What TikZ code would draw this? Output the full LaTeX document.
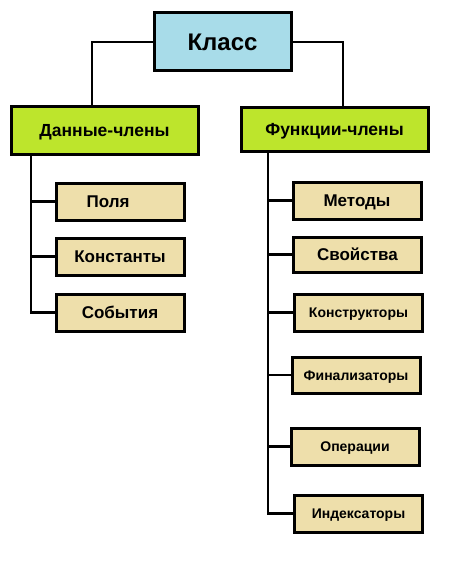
\documentclass[tikz,border=0pt]{standalone}
\usepackage{fontspec}
\setmainfont{Liberation Sans}
\definecolor{cblue}{HTML}{A8DCE9}
\definecolor{cgreen}{HTML}{BDE52C}
\definecolor{ctan}{HTML}{EEDFAB}
\tikzset{
  box/.style={draw=black, line width=3pt, inner sep=0pt, text depth=0pt, font=\bfseries},
  big/.style={box, fill=cblue, text height=17.2pt, font=\fontsize{24}{28}\selectfont\bfseries},
  mid/.style={box, fill=cgreen, text height=12.5pt, font=\fontsize{17.5}{21}\selectfont\bfseries},
  leaf/.style={box, fill=ctan, minimum width=128pt, minimum height=37pt, text height=12.2pt, font=\fontsize{17}{20}\selectfont\bfseries},
  sleaf/.style={leaf, text height=10pt, font=\fontsize{14}{17}\selectfont\bfseries},
  link/.style={draw=black, line width=2.6pt}
}
\begin{document}
\begin{tikzpicture}[x=1pt,y=-1pt]
\useasboundingbox[fill=white] (0,0) rectangle (474,567);
\node[big, minimum width=137pt, minimum height=58pt] (klass) at (222.5,42) {Класс};
\node[mid, minimum width=187pt, minimum height=47pt] (data) at (104.5,130.5) {Данные-члены};
\node[mid, minimum width=187pt, minimum height=43pt] (func) at (334.5,129.5) {Функции-члены};
\node[leaf] (pol) at (120,201.5) {\hspace*{-24pt}Поля};
\node[leaf] (kon) at (120,256.5) {Константы};
\node[leaf] (sob) at (120,312.5) {События};
\node[leaf] (met) at (357,200.5) {Методы};
\node[leaf, minimum height=35pt] (svo) at (357.5,254.5) {Свойства};
\node[sleaf] (kst) at (358.5,312.5) {Конструкторы};
\node[sleaf, minimum height=36pt] (fin) at (356,375) {Финализаторы};
\node[sleaf] (ope) at (355,446.5) {Операции};
\node[sleaf] (ind) at (358.5,513.5) {Индексаторы};
\draw[link] (klass.west) -| ([xshift=-12.5pt]data.north);
\draw[link] (klass.east) -| ([xshift=8.5pt]func.north);
\coordinate (lt) at ([xshift=-73.5pt]data.south);
\coordinate (rt) at ([xshift=-66.5pt]func.south);
\draw[link] (lt) |- (sob.west);
\draw[link] (pol.west) -- (pol.west -| lt);
\draw[link] (kon.west) -- (kon.west -| lt);
\draw[link] (rt) |- (ind.west);
\draw[link] (met.west) -- (met.west -| rt);
\draw[link] (svo.west) -- (svo.west -| rt);
\draw[link] (kst.west) -- (kst.west -| rt);
\draw[link] (fin.west) -- (fin.west -| rt);
\draw[link] (ope.west) -- (ope.west -| rt);
\end{tikzpicture}
\end{document}
